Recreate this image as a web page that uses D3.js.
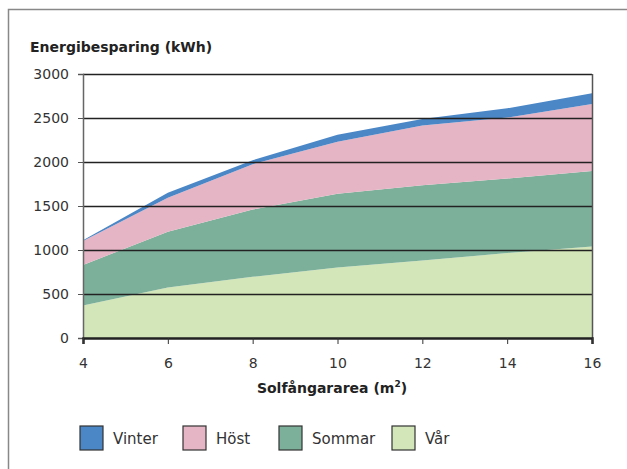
<!DOCTYPE html>
<html>
<head>
<meta charset="utf-8">
<script src="https://cdn.jsdelivr.net/npm/d3@7"></script>
<style>
  body { margin: 0; background: #fff; }
  text { font-family: "DejaVu Sans", "Liberation Sans", Arial, sans-serif; fill: #333; }
</style>
</head>
<body>
<div id="chart"></div>
<script>
// data
var areas = [4, 6, 8, 10, 12, 14, 16];
var var_ = [370, 575, 695, 800, 880, 965, 1040];      // Vår
var sommar = [460, 633, 765, 840, 855, 847, 858];
var host = [272, 387, 515, 591, 680, 693, 761];
var vinter = [10, 55, 45, 79, 75, 105, 123];
var seriesNames = ["Vår", "Sommar", "Höst", "Vinter"];
var legendNames = ["Vinter", "Höst", "Sommar", "Vår"];
var yTicks = [0, 500, 1000, 1500, 2000, 2500, 3000];
var xTicks = [4, 6, 8, 10, 12, 14, 16];

var colors = {"Vinter": "#4b86c6", "Höst": "#e6b5c5", "Sommar": "#7db09b", "Vår": "#d3e6b9"};

var width = 627, height = 469;
var margin = {top: 74, left: 83, right: 35, bottom: 131};
var plotW = width - margin.left - margin.right,
    plotH = height - margin.top - margin.bottom;

var svg = d3.select("#chart").append("svg")
    .attr("width", width)
    .attr("height", height);

// outer frame (only top and left edges visible)
svg.append("path")
    .attr("d", "M8.5," + height + " L8.5,9.5 L" + width + ",9.5")
    .attr("fill", "none")
    .attr("stroke", "#888")
    .attr("stroke-width", 1.5);

var table = areas.map(function(a, i) {
  return {area: a, "Vår": var_[i], "Sommar": sommar[i], "Höst": host[i], "Vinter": vinter[i]};
});

var stack = d3.stack().keys(seriesNames);
var layers = stack(table);

var x = d3.scaleLinear().domain([4, 16]).range([0, plotW]);
var y = d3.scaleLinear().domain([0, 3000]).range([plotH, 0]);

var g = svg.append("g")
    .attr("transform", "translate(" + margin.left + "," + margin.top + ")");

var area = d3.area()
    .x(function(d) { return x(d.data.area); })
    .y0(function(d) { return y(d[0]); })
    .y1(function(d) { return y(d[1]); });

g.selectAll(".layer")
    .data(layers)
  .enter().append("path")
    .attr("class", "layer")
    .attr("d", area)
    .attr("fill", function(d) { return colors[d.key]; });

// gridlines over the fills
g.selectAll(".grid")
    .data(yTicks.slice(1))
  .enter().append("line")
    .attr("x1", 0)
    .attr("x2", plotW)
    .attr("y1", function(d) { return Math.round(y(d)) + 0.5; })
    .attr("y2", function(d) { return Math.round(y(d)) + 0.5; })
    .attr("stroke", "#222")
    .attr("stroke-width", 1.5);

// right border
g.append("line")
    .attr("x1", plotW + 0.5).attr("x2", plotW + 0.5)
    .attr("y1", 0).attr("y2", plotH)
    .attr("stroke", "#555")
    .attr("stroke-width", 1.5);

// y axis
var yAxis = g.append("g")
    .call(d3.axisLeft(y).tickValues(yTicks).tickFormat(d3.format("d")).tickSize(5).tickPadding(9));
yAxis.select(".domain").attr("stroke", "#666").attr("stroke-width", 1.5);
yAxis.selectAll(".tick line").attr("stroke", "#555");
yAxis.selectAll("text").attr("font-size", 14).attr("fill", "#333")
    .style("font-family", "DejaVu Sans, sans-serif");

// x axis
var xAxis = g.append("g")
    .attr("transform", "translate(0," + plotH + ")")
    .call(d3.axisBottom(x).tickValues(xTicks).tickSize(6).tickPadding(14));
xAxis.select(".domain").attr("stroke", "#222").attr("stroke-width", 2.5);
xAxis.selectAll(".tick line").attr("stroke", "#333");
xAxis.selectAll("text").attr("font-size", 14).attr("fill", "#333")
    .style("font-family", "DejaVu Sans, sans-serif");

// titles
svg.append("text")
    .attr("x", 30)
    .attr("y", 52)
    .attr("font-size", 14)
    .attr("font-weight", "bold")
    .style("fill", "#222")
    .text("Energibesparing (kWh)");

var xt = svg.append("text")
    .attr("x", 332)
    .attr("y", 393)
    .attr("text-anchor", "middle")
    .attr("font-size", 14)
    .attr("font-weight", "bold")
    .style("fill", "#222");
xt.append("tspan").text("Solfångararea (m");
xt.append("tspan").attr("font-size", 9).attr("dy", -6).text("2");
xt.append("tspan").attr("dy", 6).text(")");

// legend
var legendX = [80, 183, 279, 392];
var legend = svg.selectAll(".legend")
    .data(legendNames)
  .enter().append("g")
    .attr("class", "legend")
    .attr("transform", function(d, i) { return "translate(" + legendX[i] + ",426)"; });

legend.append("rect")
    .attr("width", 23)
    .attr("height", 24)
    .attr("fill", function(d) { return colors[d]; })
    .attr("stroke", "#333")
    .attr("stroke-width", 1.2);

legend.append("text")
    .attr("x", 33)
    .attr("y", 18)
    .attr("font-size", 15)
    .text(function(d) { return d; });
</script>
</body>
</html>
